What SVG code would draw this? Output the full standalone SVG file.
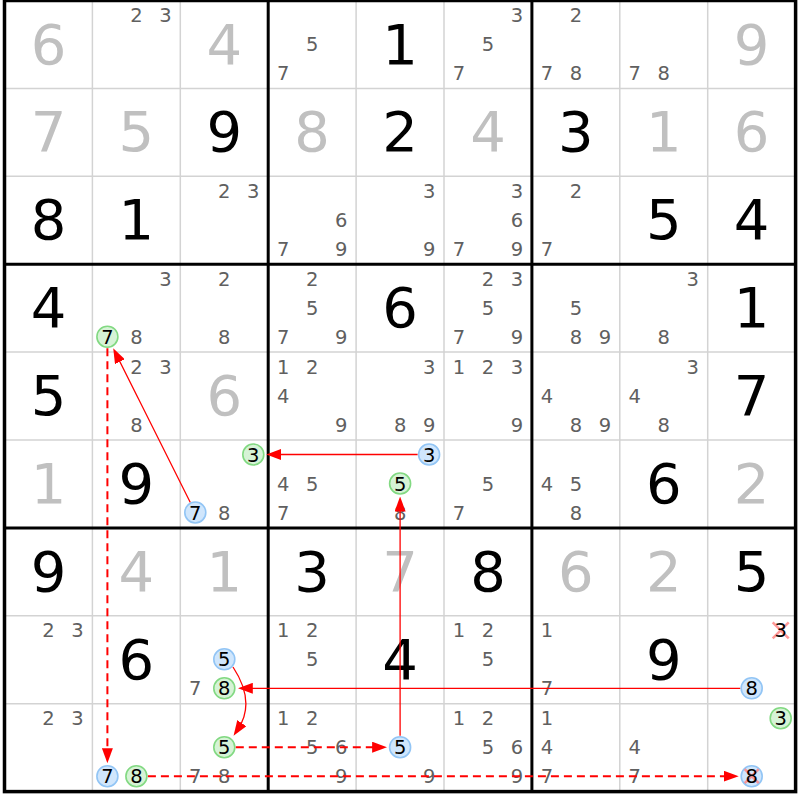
<svg xmlns="http://www.w3.org/2000/svg" width="800" height="800" viewBox="0 0 800 800">
<defs>
<style>
text{font-family:"DejaVu Sans","Liberation Sans",sans-serif;text-anchor:middle}
.vb{font-size:56px;fill:#000}
.vg{font-size:56px;fill:#c0c0c0}
.c{font-size:19.5px;fill:#606060}
.k{font-size:19.5px;fill:#000}
.cb{fill:#d0e6fc;stroke:#92c5f5;stroke-width:1.6}
.cg{fill:#d6f3d6;stroke:#82d982;stroke-width:1.6}
.thin{stroke:#d3d3d3;stroke-width:1.5}
.thick{stroke:#000;stroke-width:3}
.lk{fill:none;stroke:#f00;stroke-width:1.3}
.ld{fill:none;stroke:#f00;stroke-width:2;stroke-dasharray:8 5}
.x{stroke:#ff7f7f;stroke-width:2.5;stroke-opacity:.8}
</style>
<marker id="ah" markerUnits="userSpaceOnUse" markerWidth="15" markerHeight="11" refX="7" refY="5.5" orient="auto"><path d="M0,0L15,5.5L0,11z" fill="#f00"/></marker>
</defs>
<rect width="800" height="800" fill="#fff"/>
<g id="grid">
<path class="thin" d="M92.4,0.5V791.6M180.3,0.5V791.6M356.1,0.5V791.6M444,0.5V791.6M619.8,0.5V791.6M707.7,0.5V791.6M4.5,88.4H795.6M4.5,176.3H795.6M4.5,352.1H795.6M4.5,440H795.6M4.5,615.8H795.6M4.5,703.7H795.6"/>
<path class="thick" d="M268.2,0.5V791.6M531.9,0.5V791.6M4.5,264.2H795.6M4.5,527.9H795.6"/>
<rect x="4.5" y="0.5" width="791.1" height="791.1" fill="none" stroke="#000" stroke-width="3.5"/>
</g>
<g id="cells">
<!-- row 0 -->
<g id="r0c0" transform="translate(4.5,0.5)"><text class="vg" x="44" y="63">6</text></g>
<g id="r0c1" transform="translate(92.4,0.5)"><text class="c" x="44" y="21.5">2</text><text class="c" x="73" y="21.5">3</text></g>
<g id="r0c2" transform="translate(180.3,0.5)"><text class="vg" x="44" y="63">4</text></g>
<g id="r0c3" transform="translate(268.2,0.5)"><text class="c" x="44" y="50.5">5</text><text class="c" x="15" y="79.5">7</text></g>
<g id="r0c4" transform="translate(356.1,0.5)"><text class="vb" x="44" y="63">1</text></g>
<g id="r0c5" transform="translate(444,0.5)"><text class="c" x="73" y="21.5">3</text><text class="c" x="44" y="50.5">5</text><text class="c" x="15" y="79.5">7</text></g>
<g id="r0c6" transform="translate(531.9,0.5)"><text class="c" x="44" y="21.5">2</text><text class="c" x="15" y="79.5">7</text><text class="c" x="44" y="79.5">8</text></g>
<g id="r0c7" transform="translate(619.8,0.5)"><text class="c" x="15" y="79.5">7</text><text class="c" x="44" y="79.5">8</text></g>
<g id="r0c8" transform="translate(707.7,0.5)"><text class="vg" x="44" y="63">9</text></g>
<!-- row 1 -->
<g id="r1c0" transform="translate(4.5,88.4)"><text class="vg" x="44" y="63">7</text></g>
<g id="r1c1" transform="translate(92.4,88.4)"><text class="vg" x="44" y="63">5</text></g>
<g id="r1c2" transform="translate(180.3,88.4)"><text class="vb" x="44" y="63">9</text></g>
<g id="r1c3" transform="translate(268.2,88.4)"><text class="vg" x="44" y="63">8</text></g>
<g id="r1c4" transform="translate(356.1,88.4)"><text class="vb" x="44" y="63">2</text></g>
<g id="r1c5" transform="translate(444,88.4)"><text class="vg" x="44" y="63">4</text></g>
<g id="r1c6" transform="translate(531.9,88.4)"><text class="vb" x="44" y="63">3</text></g>
<g id="r1c7" transform="translate(619.8,88.4)"><text class="vg" x="44" y="63">1</text></g>
<g id="r1c8" transform="translate(707.7,88.4)"><text class="vg" x="44" y="63">6</text></g>
<!-- row 2 -->
<g id="r2c0" transform="translate(4.5,176.3)"><text class="vb" x="44" y="63">8</text></g>
<g id="r2c1" transform="translate(92.4,176.3)"><text class="vb" x="44" y="63">1</text></g>
<g id="r2c2" transform="translate(180.3,176.3)"><text class="c" x="44" y="21.5">2</text><text class="c" x="73" y="21.5">3</text></g>
<g id="r2c3" transform="translate(268.2,176.3)"><text class="c" x="73" y="50.5">6</text><text class="c" x="15" y="79.5">7</text><text class="c" x="73" y="79.5">9</text></g>
<g id="r2c4" transform="translate(356.1,176.3)"><text class="c" x="73" y="21.5">3</text><text class="c" x="73" y="79.5">9</text></g>
<g id="r2c5" transform="translate(444,176.3)"><text class="c" x="73" y="21.5">3</text><text class="c" x="73" y="50.5">6</text><text class="c" x="15" y="79.5">7</text><text class="c" x="73" y="79.5">9</text></g>
<g id="r2c6" transform="translate(531.9,176.3)"><text class="c" x="44" y="21.5">2</text><text class="c" x="15" y="79.5">7</text></g>
<g id="r2c7" transform="translate(619.8,176.3)"><text class="vb" x="44" y="63">5</text></g>
<g id="r2c8" transform="translate(707.7,176.3)"><text class="vb" x="44" y="63">4</text></g>
<!-- row 3 -->
<g id="r3c0" transform="translate(4.5,264.2)"><text class="vb" x="44" y="63">4</text></g>
<g id="r3c1" transform="translate(92.4,264.2)"><text class="c" x="73" y="21.5">3</text><circle class="cg" cx="15" cy="72.5" r="10.5"/><text class="k" x="15" y="79.5">7</text><text class="c" x="44" y="79.5">8</text></g>
<g id="r3c2" transform="translate(180.3,264.2)"><text class="c" x="44" y="21.5">2</text><text class="c" x="44" y="79.5">8</text></g>
<g id="r3c3" transform="translate(268.2,264.2)"><text class="c" x="44" y="21.5">2</text><text class="c" x="44" y="50.5">5</text><text class="c" x="15" y="79.5">7</text><text class="c" x="73" y="79.5">9</text></g>
<g id="r3c4" transform="translate(356.1,264.2)"><text class="vb" x="44" y="63">6</text></g>
<g id="r3c5" transform="translate(444,264.2)"><text class="c" x="44" y="21.5">2</text><text class="c" x="73" y="21.5">3</text><text class="c" x="44" y="50.5">5</text><text class="c" x="15" y="79.5">7</text><text class="c" x="73" y="79.5">9</text></g>
<g id="r3c6" transform="translate(531.9,264.2)"><text class="c" x="44" y="50.5">5</text><text class="c" x="44" y="79.5">8</text><text class="c" x="73" y="79.5">9</text></g>
<g id="r3c7" transform="translate(619.8,264.2)"><text class="c" x="73" y="21.5">3</text><text class="c" x="44" y="79.5">8</text></g>
<g id="r3c8" transform="translate(707.7,264.2)"><text class="vb" x="44" y="63">1</text></g>
<!-- row 4 -->
<g id="r4c0" transform="translate(4.5,352.1)"><text class="vb" x="44" y="63">5</text></g>
<g id="r4c1" transform="translate(92.4,352.1)"><text class="c" x="44" y="21.5">2</text><text class="c" x="73" y="21.5">3</text><text class="c" x="44" y="79.5">8</text></g>
<g id="r4c2" transform="translate(180.3,352.1)"><text class="vg" x="44" y="63">6</text></g>
<g id="r4c3" transform="translate(268.2,352.1)"><text class="c" x="15" y="21.5">1</text><text class="c" x="44" y="21.5">2</text><text class="c" x="15" y="50.5">4</text><text class="c" x="73" y="79.5">9</text></g>
<g id="r4c4" transform="translate(356.1,352.1)"><text class="c" x="73" y="21.5">3</text><text class="c" x="44" y="79.5">8</text><text class="c" x="73" y="79.5">9</text></g>
<g id="r4c5" transform="translate(444,352.1)"><text class="c" x="15" y="21.5">1</text><text class="c" x="44" y="21.5">2</text><text class="c" x="73" y="21.5">3</text><text class="c" x="73" y="79.5">9</text></g>
<g id="r4c6" transform="translate(531.9,352.1)"><text class="c" x="15" y="50.5">4</text><text class="c" x="44" y="79.5">8</text><text class="c" x="73" y="79.5">9</text></g>
<g id="r4c7" transform="translate(619.8,352.1)"><text class="c" x="73" y="21.5">3</text><text class="c" x="15" y="50.5">4</text><text class="c" x="44" y="79.5">8</text></g>
<g id="r4c8" transform="translate(707.7,352.1)"><text class="vb" x="44" y="63">7</text></g>
<!-- row 5 -->
<g id="r5c0" transform="translate(4.5,440)"><text class="vg" x="44" y="63">1</text></g>
<g id="r5c1" transform="translate(92.4,440)"><text class="vb" x="44" y="63">9</text></g>
<g id="r5c2" transform="translate(180.3,440)"><circle class="cg" cx="73" cy="14.5" r="10.5"/><text class="k" x="73" y="21.5">3</text><circle class="cb" cx="15" cy="72.5" r="10.5"/><text class="k" x="15" y="79.5">7</text><text class="c" x="44" y="79.5">8</text></g>
<g id="r5c3" transform="translate(268.2,440)"><text class="c" x="15" y="50.5">4</text><text class="c" x="44" y="50.5">5</text><text class="c" x="15" y="79.5">7</text></g>
<g id="r5c4" transform="translate(356.1,440)"><circle class="cb" cx="73" cy="14.5" r="10.5"/><text class="k" x="73" y="21.5">3</text><circle class="cg" cx="44" cy="43.5" r="10.5"/><text class="k" x="44" y="50.5">5</text><text class="c" x="44" y="79.5">8</text></g>
<g id="r5c5" transform="translate(444,440)"><text class="c" x="44" y="50.5">5</text><text class="c" x="15" y="79.5">7</text></g>
<g id="r5c6" transform="translate(531.9,440)"><text class="c" x="15" y="50.5">4</text><text class="c" x="44" y="50.5">5</text><text class="c" x="44" y="79.5">8</text></g>
<g id="r5c7" transform="translate(619.8,440)"><text class="vb" x="44" y="63">6</text></g>
<g id="r5c8" transform="translate(707.7,440)"><text class="vg" x="44" y="63">2</text></g>
<!-- row 6 -->
<g id="r6c0" transform="translate(4.5,527.9)"><text class="vb" x="44" y="63">9</text></g>
<g id="r6c1" transform="translate(92.4,527.9)"><text class="vg" x="44" y="63">4</text></g>
<g id="r6c2" transform="translate(180.3,527.9)"><text class="vg" x="44" y="63">1</text></g>
<g id="r6c3" transform="translate(268.2,527.9)"><text class="vb" x="44" y="63">3</text></g>
<g id="r6c4" transform="translate(356.1,527.9)"><text class="vg" x="44" y="63">7</text></g>
<g id="r6c5" transform="translate(444,527.9)"><text class="vb" x="44" y="63">8</text></g>
<g id="r6c6" transform="translate(531.9,527.9)"><text class="vg" x="44" y="63">6</text></g>
<g id="r6c7" transform="translate(619.8,527.9)"><text class="vg" x="44" y="63">2</text></g>
<g id="r6c8" transform="translate(707.7,527.9)"><text class="vb" x="44" y="63">5</text></g>
<!-- row 7 -->
<g id="r7c0" transform="translate(4.5,615.8)"><text class="c" x="44" y="21.5">2</text><text class="c" x="73" y="21.5">3</text></g>
<g id="r7c1" transform="translate(92.4,615.8)"><text class="vb" x="44" y="63">6</text></g>
<g id="r7c2" transform="translate(180.3,615.8)"><circle class="cb" cx="44" cy="43.5" r="10.5"/><text class="k" x="44" y="50.5">5</text><text class="c" x="15" y="79.5">7</text><circle class="cg" cx="44" cy="72.5" r="10.5"/><text class="k" x="44" y="79.5">8</text></g>
<g id="r7c3" transform="translate(268.2,615.8)"><text class="c" x="15" y="21.5">1</text><text class="c" x="44" y="21.5">2</text><text class="c" x="44" y="50.5">5</text></g>
<g id="r7c4" transform="translate(356.1,615.8)"><text class="vb" x="44" y="63">4</text></g>
<g id="r7c5" transform="translate(444,615.8)"><text class="c" x="15" y="21.5">1</text><text class="c" x="44" y="21.5">2</text><text class="c" x="44" y="50.5">5</text></g>
<g id="r7c6" transform="translate(531.9,615.8)"><text class="c" x="15" y="21.5">1</text><text class="c" x="15" y="79.5">7</text></g>
<g id="r7c7" transform="translate(619.8,615.8)"><text class="vb" x="44" y="63">9</text></g>
<g id="r7c8" transform="translate(707.7,615.8)"><path class="x" d="M65,6.5L81,22.5M81,6.5L65,22.5"/><text class="k" x="73" y="21.5">3</text><circle class="cb" cx="44" cy="72.5" r="10.5"/><text class="k" x="44" y="79.5">8</text></g>
<!-- row 8 -->
<g id="r8c0" transform="translate(4.5,703.7)"><text class="c" x="44" y="21.5">2</text><text class="c" x="73" y="21.5">3</text></g>
<g id="r8c1" transform="translate(92.4,703.7)"><circle class="cb" cx="15" cy="72.5" r="10.5"/><text class="k" x="15" y="79.5">7</text><circle class="cg" cx="44" cy="72.5" r="10.5"/><text class="k" x="44" y="79.5">8</text></g>
<g id="r8c2" transform="translate(180.3,703.7)"><circle class="cg" cx="44" cy="43.5" r="10.5"/><text class="k" x="44" y="50.5">5</text><text class="c" x="15" y="79.5">7</text><text class="c" x="44" y="79.5">8</text></g>
<g id="r8c3" transform="translate(268.2,703.7)"><text class="c" x="15" y="21.5">1</text><text class="c" x="44" y="21.5">2</text><text class="c" x="44" y="50.5">5</text><text class="c" x="73" y="50.5">6</text><text class="c" x="73" y="79.5">9</text></g>
<g id="r8c4" transform="translate(356.1,703.7)"><circle class="cb" cx="44" cy="43.5" r="10.5"/><text class="k" x="44" y="50.5">5</text><text class="c" x="73" y="79.5">9</text></g>
<g id="r8c5" transform="translate(444,703.7)"><text class="c" x="15" y="21.5">1</text><text class="c" x="44" y="21.5">2</text><text class="c" x="44" y="50.5">5</text><text class="c" x="73" y="50.5">6</text><text class="c" x="73" y="79.5">9</text></g>
<g id="r8c6" transform="translate(531.9,703.7)"><text class="c" x="15" y="21.5">1</text><text class="c" x="15" y="50.5">4</text><text class="c" x="15" y="79.5">7</text></g>
<g id="r8c7" transform="translate(619.8,703.7)"><text class="c" x="15" y="50.5">4</text><text class="c" x="15" y="79.5">7</text></g>
<g id="r8c8" transform="translate(707.7,703.7)"><circle class="cg" cx="73" cy="14.5" r="10.5"/><text class="k" x="73" y="21.5">3</text><circle class="cb" cx="44" cy="72.5" r="10.5"/><path class="x" d="M37,65.5L51,79.5M51,65.5L37,79.5"/><text class="k" x="44" y="79.5">8</text></g>
</g>
<g id="connectors">
<line class="lk" x1="190.2" y1="502.2" x2="116.8" y2="355.5" marker-end="url(#ah)"/>
<line class="lk" x1="417.6" y1="454.5" x2="274.3" y2="454.5" marker-end="url(#ah)"/>
<line class="lk" x1="740.2" y1="688.3" x2="245.8" y2="688.3" marker-end="url(#ah)"/>
<line class="lk" x1="400.1" y1="735.7" x2="400.1" y2="504.5" marker-end="url(#ah)"/>
<path class="lk" d="M233,667Q256,702 238,729" marker-end="url(#ah)"/>
<line class="ld" x1="235.8" y1="747.2" x2="379.1" y2="747.2" marker-end="url(#ah)"/>
<line class="ld" x1="107.4" y1="348.2" x2="107.4" y2="755.2" marker-end="url(#ah)"/>
<line class="ld" x1="147.9" y1="776.2" x2="730.7" y2="776.2" marker-end="url(#ah)"/>
</g>
</svg>
